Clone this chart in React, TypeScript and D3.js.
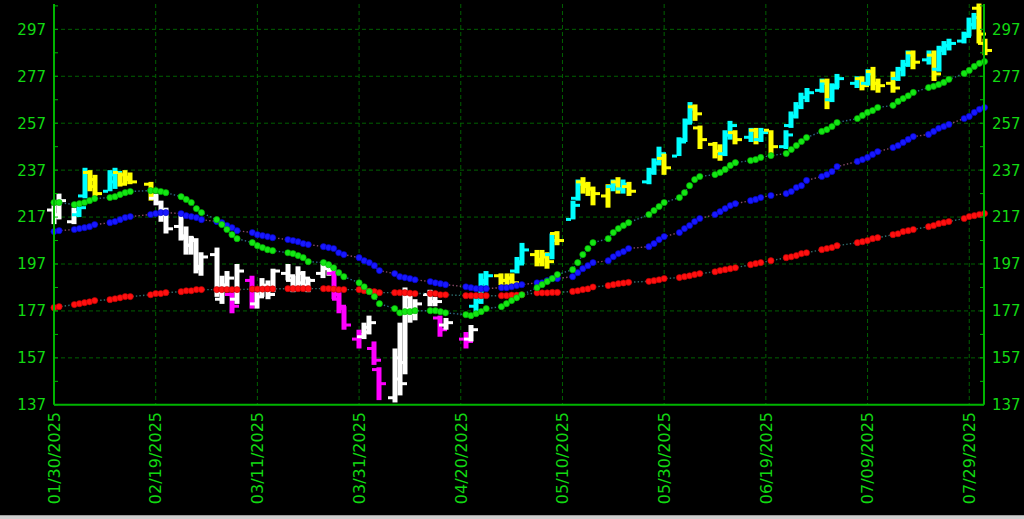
import React, { useEffect } from "react";
import * as d3 from "d3";

// ---------- DATA ----------
const tradeDays: string[] = [
  "01-30","01-31","02-03","02-04","02-05","02-06","02-07","02-10","02-11","02-12","02-13","02-14","02-18","02-19","02-20","02-21","02-24","02-25","02-26","02-27","02-28",
  "03-03","03-04","03-05","03-06","03-07","03-10","03-11","03-12","03-13","03-14","03-17","03-18","03-19","03-20","03-21","03-24","03-25","03-26","03-27","03-28",
  "03-31","04-01","04-02","04-03","04-04","04-07","04-08","04-09","04-10","04-11","04-14","04-15","04-16","04-17","04-21","04-22","04-23","04-24","04-25","04-28","04-29","04-30",
  "05-01","05-02","05-05","05-06","05-07","05-08","05-09","05-12","05-13","05-14","05-15","05-16","05-19","05-20","05-21","05-22","05-23","05-27","05-28","05-29","05-30",
  "06-02","06-03","06-04","06-05","06-06","06-09","06-10","06-11","06-12","06-13","06-16","06-17","06-18","06-20","06-23","06-24","06-25","06-26","06-27","06-30",
  "07-01","07-02","07-03","07-07","07-08","07-09","07-10","07-11","07-14","07-15","07-16","07-17","07-18","07-21","07-22","07-23","07-24","07-25","07-28","07-29","07-30","07-31",
  "08-01",
];

// [tone, open, high, low, close]  W=white C=cyan Y=yellow M=magenta
const bars: [string, number, number, number, number][] = [
  ["W",220,222,214,217],["W",218,227,216,224],["W",215,221,214,219],["C",218,222,217,221],["C",226,238,225,236],
  ["Y",236,237,228,230],["Y",233,235,226,227],["C",228,237,228,235],["C",232,238,229,236],["Y",236,236,230,231],
  ["Y",235,237,231,233],["Y",234,236,231,232],["Y",231,232,224,226],["W",225,227,222,223],["W",223,224,215,218],
  ["W",220,221,210,212],["W",213,218,207,209],["W",208,213,201,205],["W",205,209,201,207],["W",208,208,193,195],
  ["W",196,202,192,200],
  ["W",201,204,183,185],["W",182,192,180,188],["W",188,194,185,191],["M",184,185,176,179],["W",182,197,180,194],
  ["M",190,192,178,180],["W",180,185,178,183],["W",186,191,183,188],["W",187,190,182,184],["W",186,195,185,194],
  ["W",193,197,190,192],["W",190,192,185,187],["W",187,196,186,193],["W",189,194,188,191],["W",188,191,185,190],
  ["W",193,197,191,196],["W",195,197,192,194],["M",193,194,182,184],["M",182,185,176,179],["M",178,179,169,171],
  ["M",165,169,161,167],["W",166,172,165,170],["W",168,175,167,172],["M",161,164,154,156],["M",152,153,139,146],
  ["W",140,161,138,148],["W",157,172,141,146],["W",155,187,150,183],["W",178,185,172,176],["W",176,182,173,180],
  ["W",184,186,179,181],["W",181,183,179,181],["M",174,175,166,169],["W",171,174,169,172],["M",165,168,161,164],
  ["W",165,171,164,169],["C",179,183,175,177],["C",181,193,180,190],["C",189,194,187,192],["Y",192,193,188,190],
  ["Y",190,193,188,191],["Y",191,193,187,189],
  ["C",194,200,193,197],["C",198,206,197,203],["Y",201,203,196,198],["Y",199,203,196,201],["Y",200,202,195,198],
  ["C",201,210,199,207],["Y",210,211,205,207],["C",216,224,216,222],["C",225,233,224,231],["Y",232,234,227,230],
  ["Y",231,232,226,229],["Y",229,230,222,227],["Y",226,231,221,230],["C",230,233,228,231],["Y",232,234,227,229],
  ["C",229,233,227,231],["Y",230,232,226,228],["C",232,238,231,236],["C",237,242,235,240],["C",240,247,239,244],
  ["Y",242,244,235,238],
  ["C",243,251,243,249],["C",250,259,249,257],["C",258,266,257,263],["Y",264,265,258,261],["Y",255,256,246,250],
  ["Y",248,249,242,245],["Y",245,248,241,244],["C",244,254,243,252],["C",252,258,250,256],["Y",253,254,248,250],
  ["C",251,255,249,254],["Y",254,255,248,250],["C",250,255,249,253],["Y",254,254,244,247],["C",247,254,246,252],
  ["C",256,262,255,260],["C",260,266,259,264],["C",264,270,263,268],["C",268,272,266,270],["C",271,276,270,274],
  ["Y",275,276,263,267],["C",267,274,266,272],["C",273,278,272,276],["C",274,277,272,276],["Y",276,277,271,273],
  ["C",274,280,273,278],["Y",279,281,271,274],["Y",274,276,270,273],["Y",274,279,270,272],["C",276,281,275,280],
  ["C",280,284,277,282],["C",282,288,281,286],["Y",287,288,280,283],["C",284,288,282,286],["Y",286,288,275,278],
  ["C",280,290,279,288],["C",289,292,286,290],["C",290,293,288,291],["C",292,296,291,294],["C",295,302,294,299],
  ["C",299,304,297,302],["Y",306,308,291,295],
  ["Y",291,293,286,288],
];

const maFast: number[] = [
  223.2,223.2,222.3,222.7,223.2,224.0,224.9,225.3,225.7,226.6,227.4,227.9,228.3,228.3,227.9,227.4,225.7,224.5,223.2,220.6,218.9,
  215.9,213.8,211.7,209.5,207.8,206.1,204.8,204.0,203.1,202.7,201.8,201.4,200.6,199.7,198.0,197.6,196.7,195.4,193.3,191.6,
  189.0,187.3,185.2,183.1,180.1,178.0,176.2,176.7,176.7,177.1,177.1,177.1,176.7,176.2,175.4,175.0,175.8,176.7,178.0,178.8,180.1,181.4,
  182.6,183.9,186.9,188.2,189.5,190.8,192.5,194.6,197.6,201.0,203.6,206.1,207.8,210.4,212.1,213.4,214.6,218.1,219.8,221.5,223.2,
  225.3,227.4,230.4,233.0,234.3,235.1,236.0,237.3,239.0,240.2,241.1,241.5,242.4,243.2,244.1,245.8,247.5,249.2,250.9,253.5,
  254.3,255.6,257.3,259.0,260.3,261.6,262.4,263.7,264.6,266.3,267.5,268.7,270.1,272.2,272.7,273.5,274.4,275.7,278.2,279.5,281.2,282.5,
  283.3,
];

const maMid: number[] = [
  210.8,211.2,211.7,212.1,212.5,212.9,213.8,214.6,215.1,215.9,216.8,217.2,218.1,218.5,218.9,218.9,218.5,217.6,217.2,216.8,215.9,
  215.1,214.6,213.4,212.5,211.2,210.4,209.5,209.1,208.7,208.2,207.4,207.0,206.5,205.7,205.3,204.4,204.0,203.6,201.8,201.0,
  199.7,198.4,197.6,196.3,194.2,192.9,191.6,191.2,190.8,190.3,189.5,189.0,188.6,188.2,187.3,186.9,186.5,186.5,186.5,186.9,186.9,187.3,
  187.8,188.2,189.0,189.0,189.9,190.8,190.8,191.6,193.3,195.0,196.3,197.6,198.4,200.1,201.4,202.3,203.6,204.4,205.7,207.4,208.7,
  210.4,212.1,213.4,215.1,216.4,218.1,219.3,220.6,221.9,222.7,224.0,224.5,225.3,226.2,227.0,227.9,229.6,230.4,232.6,234.3,
  235.1,236.4,238.5,240.7,241.5,242.4,243.7,244.9,246.6,247.5,248.8,250.1,251.3,252.2,253.5,254.8,255.6,256.5,259.0,259.9,261.6,262.9,
  263.7,
];

const maSlow: number[] = [
  178.4,178.8,179.7,180.1,180.5,180.9,181.4,181.8,182.2,182.6,183.1,183.1,183.9,184.4,184.4,184.8,185.2,185.6,185.6,186.1,186.1,
  186.1,186.1,186.1,186.1,186.1,186.3,186.3,186.3,186.4,186.4,186.5,186.5,186.5,186.5,186.5,186.5,186.5,186.3,186.1,186.1,
  186.1,185.6,185.4,185.2,184.8,184.8,184.8,184.8,184.6,184.4,184.4,184.4,183.9,183.9,183.5,183.5,183.5,183.5,183.5,183.5,183.5,183.7,
  183.7,183.9,184.7,184.7,184.7,184.9,184.9,185.3,185.6,186.1,186.4,187.2,187.8,188.2,188.6,188.9,189.2,189.6,189.9,190.3,190.8,
  191.2,191.6,192.0,192.5,192.9,193.7,194.2,194.6,195.0,195.4,196.7,197.2,197.6,198.4,199.7,200.1,200.6,201.4,201.8,203.1,
  203.6,204.0,204.8,206.1,206.5,207.0,207.8,208.2,209.5,209.9,210.8,211.2,211.7,212.9,213.4,214.2,214.6,215.1,216.4,217.2,217.6,218.1,
  218.5,
];

const yTicks: number[] = [137, 157, 177, 197, 217, 237, 257, 277, 297];
const yMinorTicks: number[] = [147, 167, 187, 207, 227, 247, 267, 287, 307];
const xTickDays: string[] = ["01-30","02-19","03-11","03-31","04-20","05-10","05-30","06-19","07-09","07-29"];
const domainStart = "01-30";
const domainEnd = "08-01";
const yDomain: [number, number] = [137, 307.8];

// ---------- HELPERS ----------
const toDate = (md: string) => {
  const [m, d] = md.split("-").map(Number);
  return new Date(Date.UTC(2025, m - 1, d));
};
const fmt = (md: string) => md.replace("-", "/") + "/2025";

const toneColor: Record<string, string> = {
  W: "#ffffff",
  C: "#00ffff",
  Y: "#ffff00",
  M: "#ff00ff",
};

export default function App() {
  useEffect(() => {
    document.body.style.margin = "0";
    document.body.style.background = "#000";
  }, []);

  const W = 1024;
  const H = 519;
  const x = d3.scaleUtc().domain([toDate(domainStart), toDate(domainEnd)]).range([54, 984.5]);
  const y = d3.scaleLinear().domain(yDomain).range([404.8, 4]);
  const left = 54;
  const right = 984;
  const bottom = y(137);
  const top = 4;

  const pts = (arr: number[]) => arr.map((v, i) => [x(toDate(tradeDays[i])), y(v)] as [number, number]);
  const line = d3.line<[number, number]>().x((d) => d[0]).y((d) => d[1]);

  const maDefs = [
    { data: maSlow, fill: "#ff1010", stroke: "#c00000", link: "#2f7070" },
    { data: maMid, fill: "#1818ff", stroke: "#0000c0", link: "#8a4a6a" },
    { data: maFast, fill: "#14e614", stroke: "#00b000", link: "#2e6a8a" },
  ];

  const gridColor = "#006000";
  const axisColor = "#00b400";
  const labelColor = "#12d812";

  return (
    <div style={{ position: "fixed", left: 0, top: 0, width: W, height: H, background: "#000" }}>
      <svg width={W} height={H} style={{ display: "block" }}>
        <rect x={0} y={0} width={W} height={H} fill="#000" />
        {/* grid */}
        {yTicks.filter((t) => t !== 137).map((t) => (
          <line key={"gy" + t} x1={left} x2={right} y1={y(t)} y2={y(t)} stroke={gridColor} strokeWidth={1} strokeDasharray="4,3" />
        ))}
        {xTickDays.slice(1).map((d) => (
          <line key={"gx" + d} x1={x(toDate(d))} x2={x(toDate(d))} y1={top} y2={bottom} stroke={gridColor} strokeWidth={1} strokeDasharray="4,3" />
        ))}

        {/* bars */}
        {bars.map((b, i) => {
          const [tone, o, h, l, c] = b;
          const cx = Math.round(x(toDate(tradeDays[i])));
          const col = toneColor[tone];
          const yh = y(h);
          const yl = y(l);
          return (
            <g key={"b" + i} fill={col}>
              <rect x={cx - 2.5} y={yh} width={5} height={Math.max(2, yl - yh)} />
              <rect x={cx - 7} y={y(o) - 1.5} width={5} height={3} />
              <rect x={cx + 2} y={y(c) - 1.5} width={5} height={3} />
            </g>
          );
        })}

        {/* moving averages */}
        {maDefs.map((m, k) => {
          const p = pts(m.data);
          return (
            <g key={"ma" + k}>
              <path d={line(p) || ""} fill="none" stroke={m.link} strokeWidth={1.4} strokeDasharray="1.4,2.2" />
              {p.map((q, i) => (
                <circle key={i} cx={q[0]} cy={q[1]} r={3.1} fill={m.fill} stroke={m.stroke} strokeWidth={0.6} />
              ))}
            </g>
          );
        })}

        {/* axes */}
        <line x1={left} x2={left} y1={top} y2={bottom} stroke={axisColor} strokeWidth={2} />
        <line x1={right} x2={right} y1={top} y2={bottom} stroke={axisColor} strokeWidth={2} />
        <line x1={left} x2={right} y1={bottom} y2={bottom} stroke={axisColor} strokeWidth={2} />
        {yMinorTicks.concat(yTicks).map((t) => (
          <g key={"mt" + t}>
            <line x1={left} x2={left + 4} y1={y(t)} y2={y(t)} stroke={axisColor} strokeWidth={1} />
            <line x1={right - 4} x2={right} y1={y(t)} y2={y(t)} stroke={axisColor} strokeWidth={1} />
          </g>
        ))}

        {/* y labels */}
        {yTicks.map((t) => (
          <g key={"yl" + t} fill={labelColor} fontFamily="'DejaVu Sans', Verdana, sans-serif" fontSize={15}>
            <text x={46} y={y(t)} dy="0.36em" textAnchor="end">{t}</text>
            <text x={992} y={y(t)} dy="0.36em" textAnchor="start">{t}</text>
          </g>
        ))}

        {/* x labels */}
        {xTickDays.map((d) => {
          const px = x(toDate(d));
          return (
            <text
              key={"xl" + d}
              transform={`translate(${px},412) rotate(-90)`}
              textAnchor="end"
              dy="0.36em"
              fill={labelColor}
              fontFamily="'DejaVu Sans', Verdana, sans-serif"
              fontSize={16}
            >
              {fmt(d)}
            </text>
          );
        })}

        {/* bottom frame strip */}
        <rect x={0} y={515} width={W} height={1} fill="#a0a0a0" />
        <rect x={0} y={516} width={W} height={3} fill="#d0d0d0" />
      </svg>
    </div>
  );
}
